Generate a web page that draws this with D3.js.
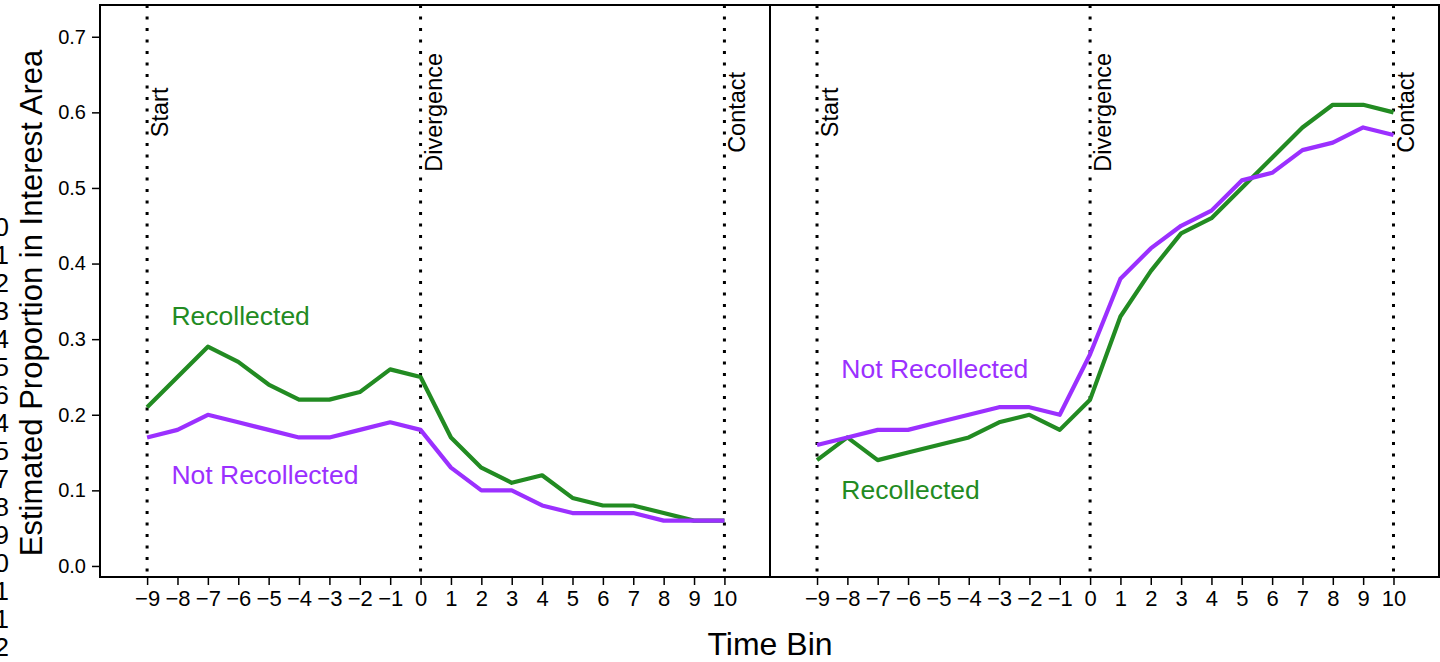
<!DOCTYPE html>
<html>
<head>
<meta charset="utf-8">
<script src="https://cdn.jsdelivr.net/npm/d3@7"></script>
<style>
  body { margin: 0; background: #fff; }
  svg { display: block; font-family: "Liberation Sans", Arial, sans-serif; }
</style>
</head>
<body>
<svg id="chart" width="1440" height="662"></svg>
<script>

// time bins shared by both panels
var bins = [-9, -8, -7, -6, -5, -4, -3, -2, -1, 0, 1, 2, 3, 4, 5, 6, 7, 8, 9, 10];
var yTicks = [0, 0.1, 0.2, 0.3, 0.4, 0.5, 0.6, 0.7];

// left panel
var leftRecollected    = [0.21, 0.25, 0.29, 0.27, 0.24, 0.22, 0.22, 0.23, 0.26, 0.25, 0.17, 0.13, 0.11, 0.12, 0.09, 0.08, 0.08, 0.07, 0.06, 0.06];
var leftNotRecollected = [0.17, 0.18, 0.20, 0.19, 0.18, 0.17, 0.17, 0.18, 0.19, 0.18, 0.13, 0.10, 0.10, 0.08, 0.07, 0.07, 0.07, 0.06, 0.06, 0.06];

// right panel
var rightRecollected    = [0.14, 0.17, 0.14, 0.15, 0.16, 0.17, 0.19, 0.20, 0.18, 0.22, 0.33, 0.39, 0.44, 0.46, 0.50, 0.54, 0.58, 0.61, 0.61, 0.60];
var rightNotRecollected = [0.16, 0.17, 0.18, 0.18, 0.19, 0.20, 0.21, 0.21, 0.20, 0.28, 0.38, 0.42, 0.45, 0.47, 0.51, 0.52, 0.55, 0.56, 0.58, 0.57];

var markers = [
  { bin: -9, label: "Start" },
  { bin: 0, label: "Divergence" },
  { bin: 10, label: "Contact" }
];

// clipped line of text at the far left edge
var strayChars = ["0", "1", "2", "3", "4", "5", "6", "4", "5", "7", "8", "9", "0", "1", "1", "2"];

var green = "#228b22", purple = "#9b30ff";

var svg = d3.select("#chart");
var plotTop = 5, plotBottom = 577;

var y = d3.scaleLinear().domain([-0.0146, 0.742]).range([plotBottom, plotTop]);

var panels = [
  { left: 100, right: 770, rec: leftRecollected, notRec: leftNotRecollected,
    labels: [{ text: "Recollected", color: green, bin: -8.2, value: 0.331 },
             { text: "Not Recollected", color: purple, bin: -8.2, value: 0.12 }] },
  { left: 770, right: 1439, rec: rightRecollected, notRec: rightNotRecollected,
    labels: [{ text: "Not Recollected", color: purple, bin: -8.2, value: 0.26 },
             { text: "Recollected", color: green, bin: -8.2, value: 0.10 }] }
];

function minusFmt(d) {
  return d < 0 ? "\u2212" + (-d) : String(d);
}

panels.forEach(function (p, i) {
  var x = d3.scaleLinear().domain([-10.55, 11.5]).range([p.left, p.right]);
  var g = svg.append("g");

  // dotted event lines
  markers.forEach(function (m) {
    g.append("line")
      .attr("x1", x(m.bin)).attr("x2", x(m.bin))
      .attr("y1", plotTop).attr("y2", plotBottom)
      .attr("stroke", "#000")
      .attr("stroke-width", 3)
      .attr("stroke-dasharray", "3,8.5");
    g.append("text")
      .attr("transform", "translate(" + (x(m.bin) + 21) + "," + y(0.6) + ") rotate(-90)")
      .attr("text-anchor", "middle")
      .attr("font-size", 23.5)
      .text(m.label);
  });

  var line = d3.line()
    .x(function (d, j) { return x(bins[j]); })
    .y(function (d) { return y(d); });

  g.append("path").datum(p.rec)
    .attr("d", line).attr("fill", "none")
    .attr("stroke", green).attr("stroke-width", 4.2)
    .attr("stroke-linejoin", "round");
  g.append("path").datum(p.notRec)
    .attr("d", line).attr("fill", "none")
    .attr("stroke", purple).attr("stroke-width", 4.2)
    .attr("stroke-linejoin", "round");

  p.labels.forEach(function (l) {
    g.append("text")
      .attr("x", x(l.bin)).attr("y", y(l.value))
      .attr("dominant-baseline", "central")
      .attr("font-size", 26.5)
      .attr("fill", l.color)
      .text(l.text);
  });

  // x axis
  var xAxis = g.append("g")
    .attr("transform", "translate(0," + plotBottom + ")")
    .call(d3.axisBottom(x).tickValues(bins).tickSize(8).tickPadding(5).tickFormat(minusFmt));
  xAxis.select(".domain").remove();
  xAxis.selectAll(".tick line").attr("stroke", "#000").attr("stroke-width", 1.5);
  xAxis.selectAll(".tick text")
    .attr("font-size", 22)
    .attr("font-family", "Liberation Sans, Arial, sans-serif")
    .attr("fill", "#000");

  if (i === 0) {
    var yAxis = g.append("g")
      .attr("transform", "translate(" + p.left + ",0)")
      .call(d3.axisLeft(y).tickValues(yTicks).tickSize(8).tickPadding(6).tickFormat(d3.format(".1f")));
    yAxis.select(".domain").remove();
    yAxis.selectAll(".tick line").attr("stroke", "#000").attr("stroke-width", 1.5);
    yAxis.selectAll(".tick text")
      .attr("font-size", 20)
      .attr("font-family", "Liberation Sans, Arial, sans-serif")
      .attr("fill", "#000");
  }

  // panel frame
  g.append("rect")
    .attr("x", p.left).attr("y", plotTop)
    .attr("width", p.right - p.left).attr("height", plotBottom - plotTop)
    .attr("fill", "none").attr("stroke", "#000").attr("stroke-width", 2);
});

// axis titles
svg.append("text")
  .attr("x", 770).attr("y", 655)
  .attr("text-anchor", "middle")
  .attr("font-size", 32)
  .text("Time Bin");

svg.append("text")
  .attr("transform", "translate(42,303) rotate(-90)")
  .attr("text-anchor", "middle")
  .attr("font-size", 31)
  .text("Estimated Proportion in Interest Area");

svg.selectAll(".stray")
  .data(strayChars)
  .enter().append("text")
  .attr("class", "stray")
  .attr("x", 9)
  .attr("y", function (d, j) { return 236 + j * 28; })
  .attr("text-anchor", "end")
  .attr("font-size", 26)
  .text(function (d) { return d; });

</script>
</body>
</html>
